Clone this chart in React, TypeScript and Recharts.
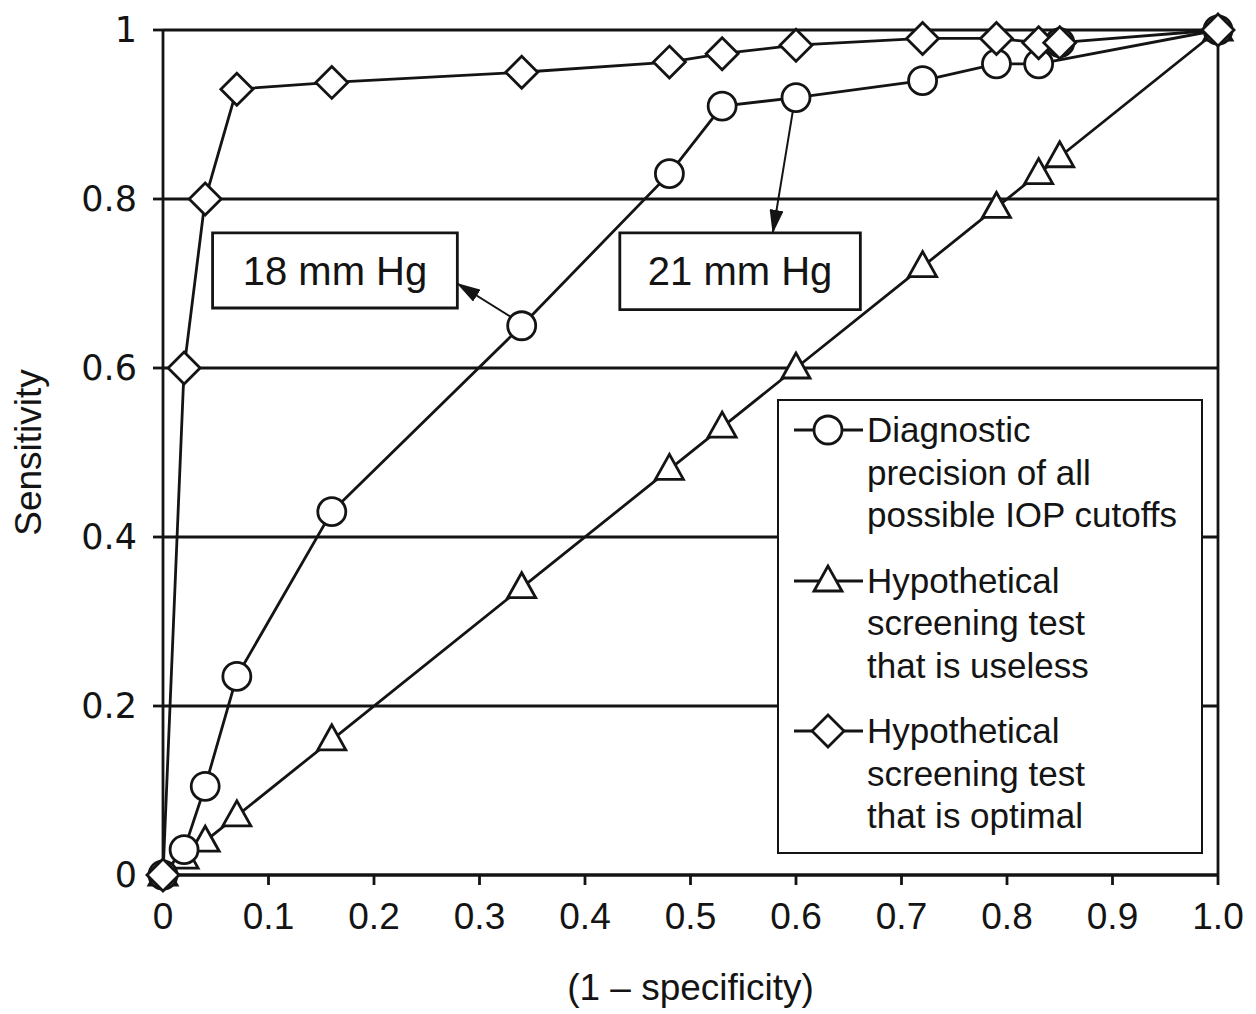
import React from 'react';
import {
  CartesianGrid,
  ComposedChart,
  Legend,
  Line,
  ReferenceArea,
  ReferenceLine,
  Scatter,
  XAxis,
  YAxis,
} from 'recharts';

// (1 - specificity) values shared by the hypothetical curves
const FPR = [0, 0.02, 0.04, 0.07, 0.16, 0.34, 0.48, 0.53, 0.6, 0.72, 0.79, 0.83, 0.85, 1.0];
const USELESS_SENS = [0, 0.02, 0.04, 0.07, 0.16, 0.34, 0.48, 0.53, 0.6, 0.72, 0.79, 0.83, 0.85, 1.0];
const OPTIMAL_SENS = [0, 0.6, 0.8, 0.93, 0.938, 0.95, 0.962, 0.972, 0.982, 0.99, 0.99, 0.985, 0.985, 1.0];

// measured IOP cutoffs
const IOP_FPR = [0, 0.02, 0.04, 0.07, 0.16, 0.34, 0.48, 0.53, 0.6, 0.72, 0.79, 0.83, 1.0];
const IOP_SENS = [0, 0.03, 0.105, 0.235, 0.43, 0.65, 0.83, 0.91, 0.92, 0.94, 0.96, 0.96, 1.0];
const IOP_EXTRA_FPR = [0.85];
const IOP_EXTRA_SENS = [0.985];

const X_TICKS = [0, 0.1, 0.2, 0.3, 0.4, 0.5, 0.6, 0.7, 0.8, 0.9, 1.0];
const Y_TICKS = [0, 0.2, 0.4, 0.6, 0.8, 1];

const LEGEND_LABELS = [
  ['Diagnostic', 'precision of all', 'possible IOP cutoffs'],
  ['Hypothetical', 'screening test', 'that is useless'],
  ['Hypothetical', 'screening test', 'that is optimal'],
];

// callouts in data units
const CALLOUTS = [
  { text: '18 mm Hg', x1: 0.047, x2: 0.279, y1: 0.671, y2: 0.76, from: { x: 0.329, y: 0.661 }, to: { x: 0.279, y: 0.7 } },
  { text: '21 mm Hg', x1: 0.433, x2: 0.661, y1: 0.669, y2: 0.76, from: { x: 0.597, y: 0.904 }, to: { x: 0.578, y: 0.76 } },
];

const INK = '#141414';
const SW = 2.8;

const zip = (xs: number[], ys: number[]) => xs.map((x, i) => ({ x, y: ys[i] }));

const iopData = zip(IOP_FPR, IOP_SENS);
const iopExtra = zip(IOP_EXTRA_FPR, IOP_EXTRA_SENS);
const uselessData = zip(FPR, USELESS_SENS);
const optimalData = zip(FPR, OPTIMAL_SENS);

const CircleMark = ({ cx, cy }: { cx: number; cy: number }) => (
  <circle cx={cx} cy={cy} r={14} fill="#fff" stroke={INK} strokeWidth={SW} />
);
const TriangleMark = ({ cx, cy }: { cx: number; cy: number }) => (
  <polygon
    points={`${cx},${cy - 15} ${cx - 14},${cy + 10} ${cx + 14},${cy + 10}`}
    fill="#fff"
    stroke={INK}
    strokeWidth={SW}
  />
);
const DiamondMark = ({ cx, cy }: { cx: number; cy: number }) => (
  <polygon
    points={`${cx},${cy - 16} ${cx + 16},${cy} ${cx},${cy + 16} ${cx - 16},${cy}`}
    fill="#fff"
    stroke={INK}
    strokeWidth={SW}
  />
);

const MARKS = [CircleMark, TriangleMark, DiamondMark];

const LegendBox = () => (
  <div
    style={{
      boxSizing: 'border-box',
      width: '100%',
      height: '100%',
      border: `${SW}px solid ${INK}`,
      background: '#fff',
      padding: '8px 0 0 14px',
      fontFamily: '"Liberation Sans", Arial, sans-serif',
      fontSize: 35,
      lineHeight: '42.5px',
      color: INK,
    }}
  >
    {LEGEND_LABELS.map((lines, i) => {
      const Mark = MARKS[i];
      return (
        <div key={i} style={{ display: 'flex', marginBottom: i < 2 ? 23 : 0 }}>
          <svg width={74} height={42} style={{ flex: 'none' }}>
            <line x1={1} y1={21} x2={70} y2={21} stroke={INK} strokeWidth={SW} />
            <Mark cx={35} cy={21} />
          </svg>
          <div>
            {lines.map((l) => (
              <div key={l}>{l}</div>
            ))}
          </div>
        </div>
      );
    })}
  </div>
);

const fmtY = (v: number) => (v === 0 || v === 1 ? String(v) : v.toFixed(1));
const fmtX = (v: number) => (v === 0 ? '0' : v.toFixed(1));

export default function App() {
  return (
    <div
      style={{
        position: 'absolute',
        left: 0,
        top: 0,
        width: 1256,
        height: 1014,
        background: '#fff',
        fontFamily: '"Liberation Sans", Arial, sans-serif',
      }}
    >
      <ComposedChart width={1256} height={1014} margin={{ top: 30, right: 38, left: 0, bottom: 0 }}>
        <defs>
          <marker
            id="arrowHead"
            markerWidth="24"
            markerHeight="14"
            refX="23"
            refY="7"
            orient="auto"
            markerUnits="userSpaceOnUse"
          >
            <path d="M0,0 L24,7 L0,14 z" fill={INK} />
          </marker>
        </defs>
        <CartesianGrid vertical={false} stroke={INK} strokeWidth={SW} strokeOpacity={1} />
        <XAxis
          type="number"
          dataKey="x"
          domain={[0, 1]}
          ticks={X_TICKS}
          tickFormatter={fmtX}
          height={139}
          stroke={INK}
          strokeWidth={SW}
          tickSize={10}
          tickMargin={18}
          tick={{ fill: INK, fontSize: 37 }}
          label={{ value: '(1 \u2013 specificity)', position: 'insideBottom', offset: 14, fill: INK, fontSize: 37 }}
        />
        <YAxis
          type="number"
          dataKey="y"
          domain={[0, 1]}
          ticks={Y_TICKS}
          tickFormatter={fmtY}
          width={163}
          stroke={INK}
          strokeWidth={SW}
          tickSize={10}
          tickMargin={16}
          tick={{ fill: INK, fontSize: 35, fontFamily: '"DejaVu Sans", sans-serif' }}
          label={{
            content: (p: any) => {
              const vb = p.viewBox || { x: 0, y: 30, width: 163, height: 845 };
              const cx = vb.x + 28;
              const cy = vb.y + vb.height / 2;
              return (
                <text
                  x={cx}
                  y={cy}
                  transform={`rotate(-90 ${cx} ${cy})`}
                  textAnchor="middle"
                  dominantBaseline="central"
                  fill={INK}
                  fontSize={37}
                >
                  Sensitivity
                </text>
              );
            },
          }}
        />
        <ReferenceLine x={1} stroke={INK} strokeWidth={SW} />
        {CALLOUTS.map((c) => (
          <ReferenceArea
            key={c.text}
            x1={c.x1}
            x2={c.x2}
            y1={c.y1}
            y2={c.y2}
            fill="#fff"
            fillOpacity={1}
            stroke={INK}
            strokeWidth={SW}
            label={{ value: c.text, position: 'center', fill: INK, fontSize: 40 }}
          />
        ))}
        {CALLOUTS.map((c) => (
          <ReferenceLine
            key={c.text + '-arrow'}
            segment={[c.from, c.to]}
            stroke={INK}
            strokeWidth={2}
            shape={(p: any) => (
              <line
                x1={p.x1}
                y1={p.y1}
                x2={p.x2}
                y2={p.y2}
                stroke={INK}
                strokeWidth={2}
                markerEnd="url(#arrowHead)"
              />
            )}
          />
        ))}
        <Line
          data={uselessData}
          dataKey="y"
          name="useless"
          stroke={INK}
          strokeWidth={SW}
          isAnimationActive={false}
          dot={(p: any) => <TriangleMark key={`t${p.index}`} cx={p.cx} cy={p.cy} />}
        />
        <Line
          data={iopData}
          dataKey="y"
          name="iop"
          stroke={INK}
          strokeWidth={SW}
          isAnimationActive={false}
          dot={(p: any) => <CircleMark key={`c${p.index}`} cx={p.cx} cy={p.cy} />}
        />
        <Scatter
          data={iopExtra}
          dataKey="y"
          isAnimationActive={false}
          shape={(p: any) => <CircleMark cx={p.cx} cy={p.cy} />}
        />
        <Line
          data={optimalData}
          dataKey="y"
          name="optimal"
          stroke={INK}
          strokeWidth={SW}
          isAnimationActive={false}
          dot={(p: any) => <DiamondMark key={`d${p.index}`} cx={p.cx} cy={p.cy} />}
        />
        <Legend
          layout="vertical"
          align="center"
          verticalAlign="middle"
          wrapperStyle={{ position: 'absolute', left: 777, top: 399, width: 426, height: 455 }}
          content={() => <LegendBox />}
        />
      </ComposedChart>
    </div>
  );
}
